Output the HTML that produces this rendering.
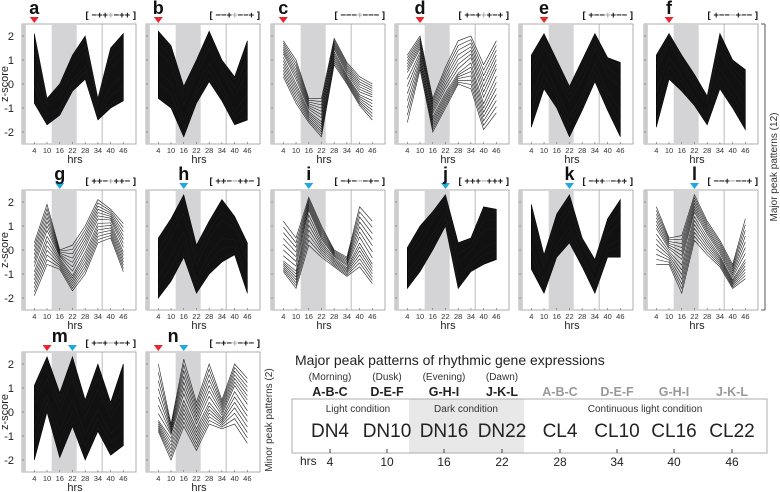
<!DOCTYPE html>
<html><head><meta charset="utf-8"><style>
html,body{margin:0;padding:0;background:#fff;}
svg{display:block;font-family:"Liberation Sans",Arial,sans-serif;}
</style></head><body>
<svg id="fig" width="780" height="492" viewBox="0 0 780 492"></svg>
<script>
const panelIds = ["a","b","c","d","e","f","g","h","i","j","k","l","m","n"];
const hours = [4,10,16,22,28,34,40,46];
const hourTicks = ["4","10","16","22","28","34","40","46"];
const zTicks = [2,1,0,-1,-2];
const hiA=[2.1,-0.6,0,1.2,2,-0.6,1.5,2.1], loA=[-0.8,-1.7,-1.3,-0.3,0.2,-1.5,-1,-0.7], mnA=[1,-1.1,-0.9,0.3,1,-1,0.3,0.8];
const hiB=[2.2,1.6,-0.1,1,2.2,1,0.3,1.8], loB=[-0.6,-1,-2.2,-0.8,0.1,-0.7,-1.7,-1.5], mnB=[1,0.5,-1.2,0.1,1.2,0.2,-0.9,0];
const hiC=[1.8,1,-0.6,-0.6,1.9,0.9,0.3,0], loC=[0.3,-0.8,-1.6,-2.2,0.8,0,-0.9,-1.5], mnC=[1.2,0.1,-1.1,-1.5,1.4,0.4,-0.4,-0.6];
const hiD=[1.2,2,-0.6,0.7,1.8,2,0.8,1.8], loD=[-1.6,0.6,-2,-1,0,-0.2,-1.9,-1.2], mnD=[0.4,1.4,-1.3,-0.3,0.5,1,-0.7,0.5];
const hiE=[1.2,2.1,1,-0.1,1,2.1,1.1,0.9], loE=[-1.8,-0.2,-1,-2.2,-1.1,0.1,-1.1,-2.2], mnE=[0,1.3,0,-1,-0.2,1.2,0,-0.6];
const hiF=[1.2,2.1,1.2,0.4,-0.5,2.1,1,0.6], loF=[-1.8,0.2,-0.3,-0.9,-1.7,-0.2,-1,-1.9], mnF=[0.3,1.5,0.6,-0.4,-1,1,0.2,-0.6];
const hiG=[0.3,1.9,0,0.2,1,2.1,1.7,1.1], loG=[-1.9,-0.6,-0.8,-1.7,-1,0.3,0.5,-0.9], mnG=[-0.8,0.7,-0.3,-1,0,1.2,1.2,0];
const hiH=[0.5,1.3,2.3,0.2,1.2,2.1,1.4,0.3], loH=[-2,-1.3,-0.3,-1.8,-1,-0.5,-0.2,-1.8], mnH=[-0.8,0.2,1.2,-1,0.2,0.9,0.7,-0.8];
const hiI=[1.2,0.5,2.2,1,0,-0.3,1.8,1.2], loI=[-0.9,-1.6,0.2,-0.3,-0.7,-1.1,-0.7,-1.4], mnI=[-0.4,-0.8,1.6,0.4,-0.3,-0.7,0.4,-0.5];
const hiJ=[0.1,1,1.6,2.3,0.3,0.5,1.8,1.7], loJ=[-1.6,-0.9,0,1,-1.6,-0.9,-0.6,-0.4], mnJ=[-0.7,0,1,1.8,-0.9,-0.3,0.4,0.6];
const hiK=[1.9,-0.2,1.5,2.3,0.5,-0.4,1.3,2.1], loK=[-0.8,-1.8,-0.3,0.3,-0.7,-1.8,-0.3,-0.3], mnK=[0.5,-1,0.4,1.3,0,-1.1,0.3,0.8];
const hiL=[1.8,0.5,0.6,2.3,1.2,0.4,-0.6,1.3], loL=[-0.6,-0.6,-1.8,0.4,-0.2,-0.7,-1.6,-1.2], mnL=[0.8,0,-0.5,1.5,0.6,-0.2,-1.2,-0.3];
const hiM=[1.1,2.3,0.8,2.3,0.5,2,0.4,2], loM=[-2,0,-1.9,-0.6,-2,-0.8,-1.8,-1.4], mnM=[0,1,-0.3,1,-0.5,0.5,-0.5,0];
const hiN=[2,-0.5,2.2,0.4,2,0.5,2,1.4], loN=[-0.8,-2,-0.6,-1.6,-0.5,-0.7,-0.5,-1.3], mnN=[-0.3,-1,0.6,-0.6,0.5,-0.2,1,0.2];
const highs=[hiA,hiB,hiC,hiD,hiE,hiF,hiG,hiH,hiI,hiJ,hiK,hiL,hiM,hiN];
const lows=[loA,loB,loC,loD,loE,loF,loG,loH,loI,loJ,loK,loL,loM,loN];
const means=[mnA,mnB,mnC,mnD,mnE,mnF,mnG,mnH,mnI,mnJ,mnK,mnL,mnM,mnN];
const denseFlags=[1,1,0,0,1,1,0,1,0,1,1,0,1,0];
const peakRed=[4,4,4,10,10,10,null,null,null,null,null,null,10,4];
const peakBlue=[null,null,null,null,null,null,16,16,16,22,22,22,22,16];
const letterHour=[4,4,4,10,10,10,16,16,16,22,22,22,16,11];
const patLeft=["−++","−−+","−−−","+−+","+−−","+−−","++−","++−","−+−","+++","−++","−−+","+−+","−+−"];
const patMid=["+","+","+","+","+","−","+","−","−","−","−","−","−","+"];
const patRight=["−++","−−+","−−−","+−+","+−−","+−−","++−","++−","−+−","+++","−++","−−+","+−+","−+−"];

const NS="http://www.w3.org/2000/svg";
const svg=document.getElementById('fig');
function mk(tag,attrs,parent){const e=document.createElementNS(NS,tag);for(const k in attrs)e.setAttribute(k,attrs[k]);(parent||svg).appendChild(e);return e;}
const colL=[22,146,271,395,519,644], rowT=[24,190,352], W=114, H=120;

panelIds.forEach((id,p)=>{
  const L=colL[p<12?p%6:p-12], T=rowT[p<12?Math.floor(p/6):2];
  const xs=t=>L+12.3+(t-4)*2.12, ys=z=>T+60-z*24;
  const g=mk('g',{});
  
  
  const box=mk('rect',{x:L,y:T,width:W,height:H,fill:'#fff',stroke:'#999','stroke-width':0.8},g);
  
  
  const s1=mk('rect',{x:L,y:T,width:xs(0)-L,height:H,fill:'#ccc'},g);
  
  
  const s2=mk('rect',{x:xs(12.2),y:T,width:xs(24)-xs(12.2),height:H,fill:'#d4d4d6'},g);
  
  
  const vl=mk('line',{x1:xs(36),x2:xs(36),y1:T,y2:T+H,stroke:'#aaa','stroke-width':0.8},g);
  
  
  const hi=highs[p],lo=lows[p],mn=means[p];
  if(denseFlags[p]){
    let d='M'+hours.map((t,i)=>xs(t)+','+ys(hi[i])).join('L')+'L'+hours.slice().reverse().map((t,j)=>xs(t)+','+ys(lo[7-j])).join('L')+'Z';
    const band=mk('path',{d:d,fill:'#111',stroke:'#000','stroke-width':0.6},g);
    
    
  }
  const fr=denseFlags[p]?[0.3,0.6,0.9]:[0.1,0.25,0.4,0.55,0.7,0.85,1];
  [hi,lo].forEach(edge=>{fr.forEach(f=>{
    const pts=hours.map((t,i)=>xs(t)+','+ys(mn[i]+f*(edge[i]-mn[i]))).join(' ');
    const ln=mk('polyline',{points:pts,fill:'none',stroke:'#1a1a1a','stroke-width':0.6},g);
    
    
  });});
  hours.forEach((t,i)=>{
    const tk=mk('line',{x1:xs(t),x2:xs(t),y1:T+H,y2:T+H-2,stroke:'#666','stroke-width':0.6},g);
    
    
    const tl=mk('text',{x:xs(t),y:T+H+9,'font-size':7.5,'text-anchor':'middle',fill:'#333'},g);
    tl.textContent=hourTicks[i];
    
    
  });
  const hx=mk('text',{x:L+W/2-4,y:T+H+19,'font-size':11,'text-anchor':'middle',fill:'#222'},g);
  hx.textContent='hrs';
  
  
  zTicks.forEach(z=>{
    const tk=mk('line',{x1:L,x2:L+2,y1:ys(z),y2:ys(z),stroke:'#666','stroke-width':0.6},g);
    
    
    if(L===22){
      const tl=mk('text',{x:L-8,y:ys(z)+4,'font-size':11,'text-anchor':'end',fill:'#222'},g);
      tl.textContent=String(z);
      
      
    }
  });
  if(L===22){
    const yt=mk('text',{x:8,y:T+60,'font-size':11,'text-anchor':'middle',fill:'#222',transform:'rotate(-90 8 '+(T+60)+')'},g);
    yt.textContent='z-score';
    
    
  }
  [[peakRed[p],'#e8262b'],[peakBlue[p],'#1fa8e0']].forEach(([t,c])=>{
    if(t===null)return;
    const x=xs(t);
    const tri=mk('path',{d:`M${x-4.5},${T-7}L${x+4.5},${T-7}L${x},${T-1}Z`,fill:c},g);
    
    
  });
  const lt=mk('text',{x:xs(letterHour[p]),y:T-10,'font-size':18,'font-weight':'bold','text-anchor':'middle',fill:'#111'},g);
  lt.textContent=id;
  
  
  const pt=mk('text',{x:L+W,y:T-6,'font-size':9.5,'font-weight':'bold','text-anchor':'end',fill:'#111'},g);
  pt.innerHTML='[ '+patLeft[p]+'<tspan fill="#aaa">'+patMid[p]+'</tspan>'+patRight[p]+' ]';
  
  
});
</script>
<script>
(function(){
const NS="http://www.w3.org/2000/svg", s=document.getElementById('fig');
const g=document.createElementNS(NS,'g');


s.appendChild(g);
g.innerHTML=`
<line x1="765" y1="24" x2="765" y2="310" stroke="#555" stroke-width="1"/>
<line x1="761" y1="24" x2="765" y2="24" stroke="#555"/>
<line x1="761" y1="310" x2="765" y2="310" stroke="#555"/>
<text x="777" y="167" font-size="10" fill="#333" text-anchor="middle" transform="rotate(-90 777 167)">Major peak patterns (12)</text>
<text x="272" y="420" font-size="10" fill="#333" text-anchor="middle" transform="rotate(-90 272 420)">Minor peak patterns (2)</text>
<text x="295" y="365" font-size="14" fill="#222">Major peak patterns of rhythmic gene expressions</text>
<rect x="292" y="399" width="475" height="54" fill="#fff" stroke="#999" stroke-width="0.8"/>
<rect x="409" y="399.5" width="115" height="53" fill="#e8e8e8"/>
<g font-size="10" fill="#333" text-anchor="middle">
<text x="358" y="412">Light condition</text>
<text x="466" y="412">Dark condition</text>
<text x="645" y="412">Continuous light condition</text>
<text x="330" y="380">(Morning)</text>
<text x="387" y="380">(Dusk)</text>
<text x="444" y="380">(Evening)</text>
<text x="502" y="380">(Dawn)</text>
</g>
<g font-size="12.5" font-weight="bold" text-anchor="middle">
<text x="330" y="396" fill="#222">A-B-C</text>
<text x="387" y="396" fill="#222">D-E-F</text>
<text x="444" y="396" fill="#222">G-H-I</text>
<text x="502" y="396" fill="#222">J-K-L</text>
<text x="560" y="396" fill="#999">A-B-C</text>
<text x="617" y="396" fill="#999">D-E-F</text>
<text x="674" y="396" fill="#999">G-H-I</text>
<text x="732" y="396" fill="#999">J-K-L</text>
</g>
<g font-size="19" fill="#222" text-anchor="middle">
<text x="330" y="437">DN4</text>
<text x="387" y="437">DN10</text>
<text x="444" y="437">DN16</text>
<text x="502" y="437">DN22</text>
<text x="560" y="437">CL4</text>
<text x="617" y="437">CL10</text>
<text x="674" y="437">CL16</text>
<text x="732" y="437">CL22</text>
</g>
<g stroke="#444" stroke-width="1">
<line x1="330" x2="330" y1="449" y2="453"/><line x1="387" x2="387" y1="449" y2="453"/><line x1="444" x2="444" y1="449" y2="453"/><line x1="502" x2="502" y1="449" y2="453"/>
<line x1="560" x2="560" y1="449" y2="453"/><line x1="617" x2="617" y1="449" y2="453"/><line x1="674" x2="674" y1="449" y2="453"/><line x1="732" x2="732" y1="449" y2="453"/>
</g>
<g font-size="12" fill="#222" text-anchor="middle">
<text x="300" y="465" text-anchor="start">hrs</text>
<text x="330" y="466">4</text>
<text x="387" y="466">10</text>
<text x="444" y="466">16</text>
<text x="502" y="466">22</text>
<text x="560" y="466">28</text>
<text x="617" y="466">34</text>
<text x="674" y="466">40</text>
<text x="732" y="466">46</text>
</g>`;
})();
</script>
</body></html>
